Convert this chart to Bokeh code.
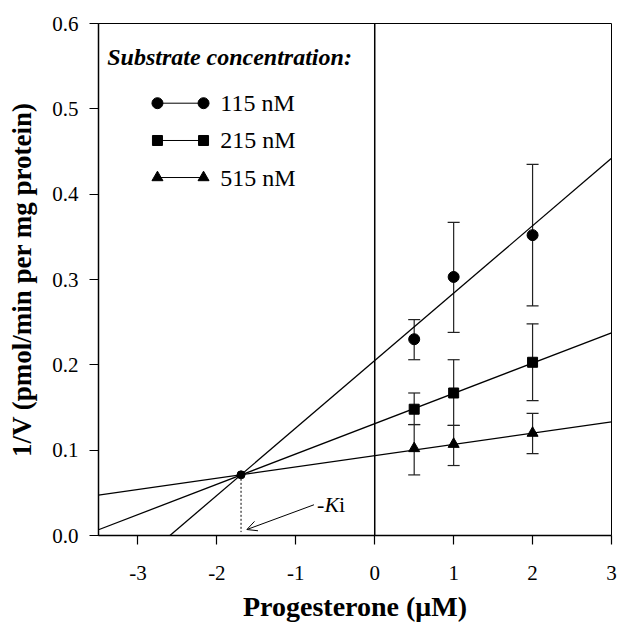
from bokeh.plotting import figure
from bokeh.models import (ColumnDataSource, Whisker, TeeHead, Span, Arrow, OpenHead,
                          Label, PrintfTickFormatter, FixedTicker)
from bokeh.embed import file_html
from bokeh.resources import INLINE

# ---------------- data ----------------
progesterone = [0.5, 1.0, 2.0]
series_names = ["115 nM", "215 nM", "515 nM"]
inv_v_115 = [0.230, 0.303, 0.352]
err_hi_115 = [0.253, 0.367, 0.435]
err_lo_115 = [0.206, 0.238, 0.269]
inv_v_215 = [0.148, 0.167, 0.203]
err_hi_215 = [0.167, 0.206, 0.248]
err_lo_215 = [0.130, 0.129, 0.158]
inv_v_515 = [0.102, 0.107, 0.120]
err_hi_515 = [0.130, 0.129, 0.143]
err_lo_515 = [0.071, 0.082, 0.096]
# regression lines (intercept at 0, slope)
fit_intercepts = [0.205, 0.131, 0.0935]
fit_slopes = [0.0790, 0.0355, 0.0132]
fit_x_span = [-3.5, 3.0]
ki_point = (-1.694, 0.0711)
x_ticks = [-3, -2, -1, 0, 1, 2, 3]
y_ticks = [0.0, 0.1, 0.2, 0.3, 0.4, 0.5, 0.6]

SERIF = "Liberation Serif"
INK = "black"

p = figure(width=617, height=628, x_range=(-3.5, 3.0), y_range=(0.0, 0.6),
           output_backend="svg", toolbar_location=None,
           min_border_left=98, min_border_right=6, min_border_top=23, min_border_bottom=93)
p.background_fill_color = "white"
p.border_fill_color = "white"
p.outline_line_color = INK
p.outline_line_width = 1
p.xgrid.visible = False
p.ygrid.visible = False

for ax in (p.xaxis, p.yaxis):
    ax.axis_line_color = INK
    ax.axis_line_width = 1.5
    ax.major_tick_line_color = INK
    ax.major_tick_line_width = 1.2
    ax.major_tick_in = 0
    ax.major_tick_out = 9
    ax.minor_tick_line_color = None
    ax.major_label_text_font = SERIF
    ax.major_label_text_font_size = "21px"
    ax.major_label_text_color = INK
    ax.axis_label_text_font = SERIF
    ax.axis_label_text_font_style = "bold"
    ax.axis_label_text_color = INK

p.xaxis.axis_label_text_font_size = "28px"
p.yaxis.axis_label_text_font_size = "27px"
p.xaxis.ticker = FixedTicker(ticks=x_ticks)
p.yaxis.ticker = FixedTicker(ticks=y_ticks)
p.xaxis.formatter = PrintfTickFormatter(format="%d")
p.yaxis.formatter = PrintfTickFormatter(format="%.1f")
p.xaxis.major_label_standoff = 21
p.yaxis.major_label_standoff = 11
p.xaxis.axis_label = "Progesterone (\u03bcM)"
p.yaxis.axis_label = "1/V (pmol/min per mg protein)"
p.xaxis.axis_label_standoff = 8
p.yaxis.axis_label_standoff = 12

# vertical line at x = 0
p.add_layout(Span(location=0, dimension="height", line_color=INK, line_width=1.5))

# regression lines
for a, b in zip(fit_intercepts, fit_slopes):
    p.line(fit_x_span, [a + b * x for x in fit_x_span], line_color=INK, line_width=1.3)

# error bars
for ys, hi, lo in [(inv_v_115, err_hi_115, err_lo_115),
                   (inv_v_215, err_hi_215, err_lo_215),
                   (inv_v_515, err_hi_515, err_lo_515)]:
    src = ColumnDataSource(dict(x=progesterone, upper=hi, lower=lo))
    w = Whisker(base="x", upper="upper", lower="lower", source=src,
                line_color="#222222", line_width=1.2,
                upper_head=TeeHead(size=12, line_color="#222222", line_width=1.2),
                lower_head=TeeHead(size=12, line_color="#222222", line_width=1.2))
    p.add_layout(w)

markers = ["circle", "square", "triangle"]
marker_sizes = [11, 10, 11]
for ys, m, s in zip([inv_v_115, inv_v_215, inv_v_515], markers, marker_sizes):
    p.scatter(progesterone, ys, marker=m, size=s, fill_color=INK, line_color=INK)

# Ki intersection + dotted drop line
p.segment(x0=[ki_point[0]], y0=[ki_point[1]], x1=[ki_point[0]], y1=[0.004],
          line_color=INK, line_width=1, line_dash="2 2")
p.scatter([ki_point[0]], [ki_point[1]], marker="circle", size=8, fill_color=INK, line_color=INK)
p.add_layout(Arrow(end=OpenHead(size=10, line_color=INK, line_width=1),
                   x_start=-0.77, y_start=0.036, x_end=-1.62, y_end=0.007,
                   line_color=INK, line_width=1))
KI_X, KI_Y = -0.73, 0.036
for txt, off, style in [("-", 0, "normal"), ("K", 7.5, "italic"), ("i", 22, "normal")]:
    p.add_layout(Label(x=KI_X, y=KI_Y, x_offset=off, text=txt, text_font=SERIF,
                       text_font_size="22px", text_font_style=style, text_color=INK,
                       text_baseline="middle", text_align="left"))

# custom legend
p.add_layout(Label(x=-3.39, y=0.5613, text="Substrate concentration:", text_font=SERIF,
                   text_font_size="24px", text_font_style="bold italic", text_color=INK,
                   text_baseline="middle", text_align="left"))
LEG_X = [-2.753, -2.169]
LEG_TX = -1.957
LEG_Y = [0.5066, 0.4629, 0.4195]
for name, m, s, ly in zip(series_names, markers, marker_sizes, LEG_Y):
    p.line(LEG_X, [ly, ly], line_color=INK, line_width=1)
    p.scatter(LEG_X, [ly, ly], marker=m, size=s, fill_color=INK, line_color=INK)
    p.add_layout(Label(x=LEG_TX, y=ly, text=name, text_font=SERIF, text_font_size="24px",
                       text_color=INK, text_baseline="middle", text_align="left"))

open("out.html", "w").write(file_html(p, INLINE))
